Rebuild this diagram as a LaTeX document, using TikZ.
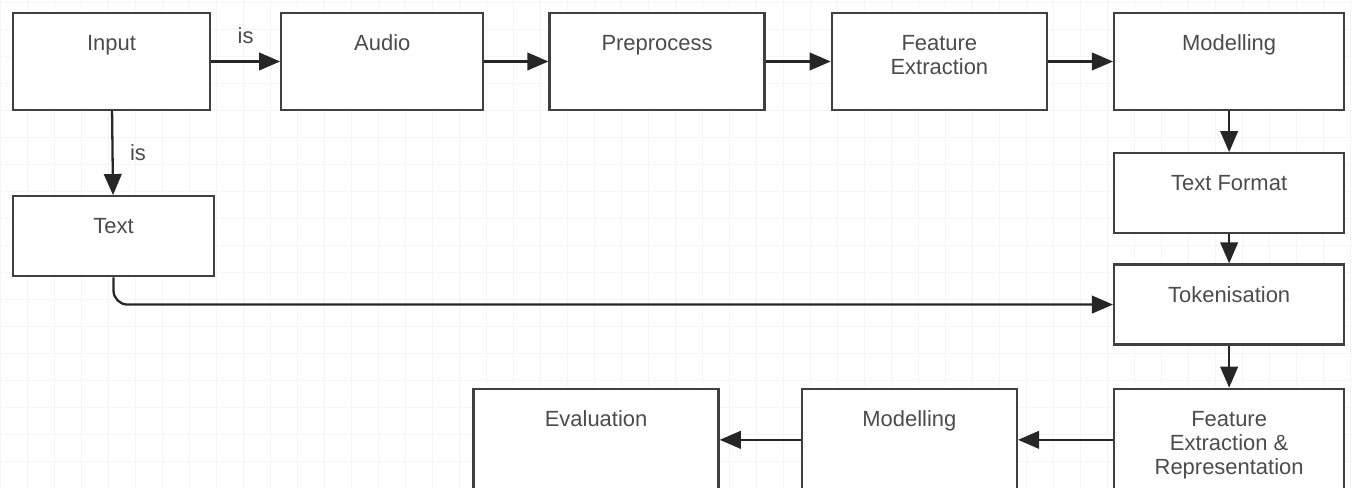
\documentclass[tikz,border=0pt]{standalone}
\usepackage{fontspec}
\setmainfont{Liberation Sans}
\usetikzlibrary{positioning, arrows.meta}

\tikzset{box/.style={draw=black!75, line width=1.3pt, fill=white, minimum height=1.94cm,
           label={[anchor=north, align=center, text=black!70, yshift=-9pt]north:#1}},
         flow/.style={line width=1.3pt, draw=black!85, -{Triangle[length=12pt, width=10pt]}}}

\begin{document}
\begin{tikzpicture}[font=\fontsize{12.5}{13.7}\selectfont, every label/.style={inner sep=4pt}]
        \useasboundingbox (0,0) rectangle (27.04,9.76);
        \draw[black!4, line width=0.5pt] (0,0) grid[step=0.54] (27.04,9.76);
        % top row
        \node[box=Input, minimum width=3.94cm] (input) at (2.23,8.53) {};
        \node[box=Audio, minimum width=4.04cm, right=1.38cm of input] (audio) {};
        \node[box=Preprocess, minimum width=4.3cm, right=1.28cm of audio] (prep) {};
        \node[box={Feature\\Extraction}, minimum width=4.3cm, right=1.3cm of prep] (feat) {};
        \node[box=Modelling, minimum width=4.6cm, right=1.3cm of feat] (model) {};
        % right column
        \node[box={Text Format}, minimum width=4.6cm, minimum height=1.6cm, below=0.82cm of model] (fmt) {};
        \node[box=Tokenisation, minimum width=4.6cm, minimum height=1.6cm, below=0.58cm of fmt] (tok) {};
        \node[box={Feature\\Extraction \&\\Representation}, minimum width=4.6cm, minimum height=2.04cm, below=0.84cm of tok] (repr) {};
        % text branch
        \node[box=Text, minimum width=4.02cm, minimum height=1.6cm, below=1.68cm of input.south west, anchor=north west] (text) {};
        % bottom row
        \node[box=Modelling, minimum width=4.3cm, minimum height=2.04cm, left=1.9cm of repr] (model2) {};
        \node[box=Evaluation, minimum width=4.9cm, minimum height=2.04cm, left=1.62cm of model2] (eval) {};
        \draw[flow] (input) -- node[midway, above=6pt, text=black!70] {is} (audio);
        \draw[flow] (audio) -- (prep);
        \draw[flow] (prep) -- (feat);
        \draw[flow] (feat) -- (model);
        \draw[flow] (input) -- node[midway, right=6pt, text=black!70] {is} (text);
        \draw[flow] (model) -- (fmt);
        \draw[flow] (fmt) -- (tok);
        \draw[flow] (tok) -- (repr);
        \draw[flow, rounded corners=8pt] (text.south) |- (tok.west);
        \draw[flow] (repr) -- (model2);
        \draw[flow] (model2) -- (eval);
    \end{tikzpicture}
\end{document}
